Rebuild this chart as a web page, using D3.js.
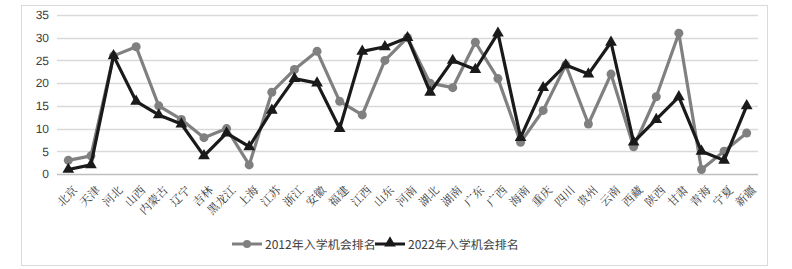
<!DOCTYPE html>
<html><head><meta charset="utf-8">
<script src="https://cdn.jsdelivr.net/npm/d3@7"></script>
<style>body{margin:0;background:#fff;} svg{display:block;} text{text-rendering:geometricPrecision;}</style>
</head><body>
<svg id="c" width="792" height="269"></svg>
<script>
const categories = ["北京","天津","河北","山西","内蒙古","辽宁","吉林","黑龙江","上海","江苏","浙江","安徽","福建","江西","山东","河南","湖北","湖南","广东","广西","海南","重庆","四川","贵州","云南","西藏","陕西","甘肃","青海","宁夏","新疆"];
const rank2012 = [3,4,26,28,15,12,8,10,2,18,23,27,16,13,25,30,20,19,29,21,7,14,24,11,22,6,17,31,1,5,9];
const rank2022 = [1,2,26,16,13,11,4,9,6,14,21,20,10,27,28,30,18,25,23,31,8,19,24,22,29,7,12,17,5,3,15];
const yTicks = [0,5,10,15,20,25,30,35];
const seriesNames = ["2012年入学机会排名","2022年入学机会排名"];

const svg = d3.select("#c");
svg.append("rect").attr("x",21.5).attr("y",5.5).attr("width",746).attr("height",260)
  .attr("fill","#fff").attr("stroke","#d9d9d9").attr("stroke-width",1);

const x = d3.scaleBand().domain(categories).range([57,758]);
const y = d3.scaleLinear().domain([0,35]).range([174,15]);

const g = svg.append("g");
g.selectAll("line.grid").data(yTicks).join("line")
  .attr("x1",57).attr("x2",758)
  .attr("y1",d=>Math.round(y(d))+0.5).attr("y2",d=>Math.round(y(d))+0.5)
  .attr("stroke",d=>d===0?"#bfbfbf":"#d9d9d9").attr("stroke-width",1.3);

const yAxis = d3.axisLeft(y).tickValues(yTicks).tickSize(0).tickPadding(0);
const ya = svg.append("g").attr("transform","translate(49,0)").call(yAxis);
ya.select(".domain").remove();
ya.selectAll("text").attr("font-family","Liberation Sans, Arial, sans-serif").attr("font-size",12).attr("fill","#404040");

const xAxis = d3.axisBottom(x).tickSize(0).tickPadding(0);
const xa = svg.append("g").attr("transform","translate(0,186)").call(xAxis);
xa.select(".domain").remove();
xa.selectAll("text")
  .attr("font-family","Noto Serif CJK SC, Noto Sans CJK SC, serif").attr("font-size",11.5).attr("fill","#333")
  .attr("text-anchor","end").attr("dy","0.6em").attr("dx","0")
  .attr("transform","translate(5,0) rotate(-45)");

const cx = d => x(d) + x.bandwidth()/2;
const line = d3.line().x(d=>cx(d[0])).y(d=>y(d[1]));

const d12 = categories.map((c,i)=>[c,rank2012[i]]);
const d22 = categories.map((c,i)=>[c,rank2022[i]]);

g.append("path").datum(d12).attr("d",line).attr("fill","none").attr("stroke","#808080").attr("stroke-width",3.2).attr("stroke-linejoin","round");
g.selectAll("circle.m12").data(d12).join("circle")
  .attr("cx",d=>cx(d[0])).attr("cy",d=>y(d[1])).attr("r",4.5).attr("fill","#808080");

g.append("path").datum(d22).attr("d",line).attr("fill","none").attr("stroke","#1a1a1a").attr("stroke-width",3.2).attr("stroke-linejoin","round");
const tri = d3.symbol().type(d3.symbolTriangle).size(60);
g.selectAll("path.m22").data(d22).join("path")
  .attr("transform",d=>`translate(${cx(d[0])},${y(d[1])})`).attr("d",tri).attr("fill","#1a1a1a");

const leg = svg.append("g");
const items = [
  {name:seriesNames[0], x:232, color:"#808080", mark:"circle"},
  {name:seriesNames[1], x:375, color:"#1a1a1a", mark:"tri"}
];
items.forEach(it=>{
  leg.append("line").attr("x1",it.x).attr("x2",it.x+30).attr("y1",244).attr("y2",244).attr("stroke",it.color).attr("stroke-width",3);
  if(it.mark==="circle") leg.append("circle").attr("cx",it.x+15).attr("cy",244).attr("r",4).attr("fill",it.color);
  else leg.append("path").attr("transform",`translate(${it.x+15},243)`).attr("d",tri).attr("fill",it.color);
  leg.append("text").attr("x",it.x+33).attr("y",248.5).text(it.name)
    .attr("font-family","Noto Sans CJK SC, sans-serif").attr("font-size",12).attr("fill","#404040");
});
</script>
</body></html>
